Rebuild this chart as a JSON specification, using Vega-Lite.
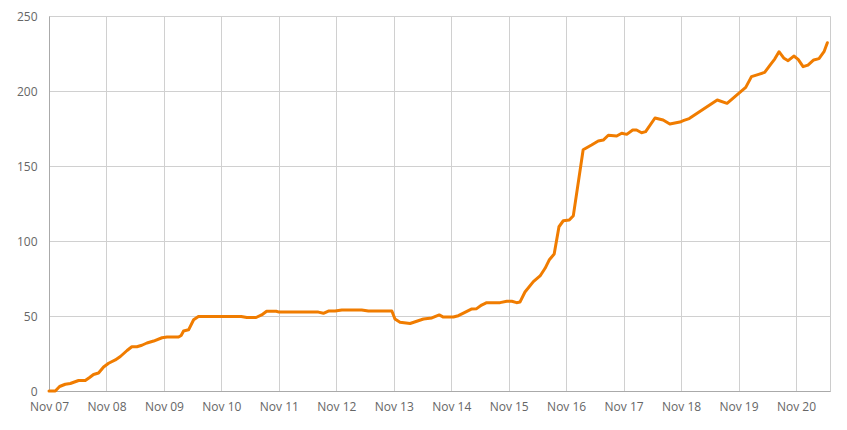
{
  "$schema": "https://vega.github.io/schema/vega-lite/v6.json",
  "autosize": {"type": "none"},
  "width": 781,
  "height": 375,
  "padding": {"left": 49, "top": 16, "right": 17, "bottom": 39},
  "background": "white",
  "config": {
    "view": {"stroke": "#cccccc", "strokeWidth": 1},
    "font": "Open Sans",
    "axis": {
      "labelFont": "Open Sans",
      "labelFontSize": 12,
      "labelColor": "#666666",
      "gridColor": "#d0d0d0",
      "gridWidth": 1,
      "domainColor": "#aaaaaa",
      "ticks": false,
      "title": null
    }
  },
  "data": {
    "values": [
      {"time": "2023-11-07T00:00:00", "value": 0},
      {"time": "2023-11-07T02:38:00", "value": 0},
      {"time": "2023-11-07T04:25:00", "value": 3},
      {"time": "2023-11-07T06:48:00", "value": 4.5},
      {"time": "2023-11-07T08:54:00", "value": 5},
      {"time": "2023-11-07T12:21:00", "value": 7},
      {"time": "2023-11-07T15:09:00", "value": 7},
      {"time": "2023-11-07T16:57:00", "value": 9},
      {"time": "2023-11-07T18:36:00", "value": 11},
      {"time": "2023-11-07T20:42:00", "value": 12},
      {"time": "2023-11-07T22:48:00", "value": 16},
      {"time": "2023-11-08T00:54:00", "value": 18.5},
      {"time": "2023-11-08T03:42:00", "value": 20.7},
      {"time": "2023-11-08T05:48:00", "value": 23},
      {"time": "2023-11-08T08:36:00", "value": 27},
      {"time": "2023-11-08T10:36:00", "value": 29.5},
      {"time": "2023-11-08T12:42:00", "value": 29.5},
      {"time": "2023-11-08T14:48:00", "value": 30.5},
      {"time": "2023-11-08T16:54:00", "value": 32},
      {"time": "2023-11-08T19:42:00", "value": 33.3},
      {"time": "2023-11-08T23:12:00", "value": 35.5},
      {"time": "2023-11-09T01:18:00", "value": 36},
      {"time": "2023-11-09T06:06:00", "value": 36},
      {"time": "2023-11-09T07:12:00", "value": 37},
      {"time": "2023-11-09T08:12:00", "value": 40},
      {"time": "2023-11-09T10:18:00", "value": 40.8},
      {"time": "2023-11-09T12:24:00", "value": 47.5},
      {"time": "2023-11-09T14:24:00", "value": 49.7},
      {"time": "2023-11-10T08:18:00", "value": 49.7},
      {"time": "2023-11-10T10:36:00", "value": 49},
      {"time": "2023-11-10T14:30:00", "value": 49},
      {"time": "2023-11-10T16:48:00", "value": 50.7},
      {"time": "2023-11-10T18:54:00", "value": 53.2},
      {"time": "2023-11-10T22:54:00", "value": 53.2},
      {"time": "2023-11-11T00:06:00", "value": 52.6},
      {"time": "2023-11-11T16:30:00", "value": 52.6},
      {"time": "2023-11-11T18:36:00", "value": 51.8},
      {"time": "2023-11-11T20:42:00", "value": 53.3},
      {"time": "2023-11-11T23:30:00", "value": 53.3},
      {"time": "2023-11-12T02:18:00", "value": 54},
      {"time": "2023-11-12T10:36:00", "value": 54},
      {"time": "2023-11-12T13:24:00", "value": 53.3},
      {"time": "2023-11-12T23:12:00", "value": 53.3},
      {"time": "2023-11-13T00:30:00", "value": 48},
      {"time": "2023-11-13T02:36:00", "value": 45.8},
      {"time": "2023-11-13T06:48:00", "value": 45},
      {"time": "2023-11-13T09:36:00", "value": 46.5},
      {"time": "2023-11-13T12:24:00", "value": 48},
      {"time": "2023-11-13T15:54:00", "value": 48.7},
      {"time": "2023-11-13T19:00:00", "value": 50.7},
      {"time": "2023-11-13T20:42:00", "value": 49.3},
      {"time": "2023-11-14T00:54:00", "value": 49.3},
      {"time": "2023-11-14T02:58:00", "value": 50.2},
      {"time": "2023-11-14T05:42:00", "value": 52.4},
      {"time": "2023-11-14T08:36:00", "value": 54.7},
      {"time": "2023-11-14T10:36:00", "value": 54.9},
      {"time": "2023-11-14T12:42:00", "value": 57.3},
      {"time": "2023-11-14T14:48:00", "value": 58.9},
      {"time": "2023-11-14T20:24:00", "value": 58.9},
      {"time": "2023-11-14T23:12:00", "value": 59.8},
      {"time": "2023-11-15T01:18:00", "value": 59.8},
      {"time": "2023-11-15T03:18:00", "value": 58.9},
      {"time": "2023-11-15T04:42:00", "value": 59.3},
      {"time": "2023-11-15T06:48:00", "value": 66},
      {"time": "2023-11-15T10:18:00", "value": 72.9},
      {"time": "2023-11-15T13:06:00", "value": 76.7},
      {"time": "2023-11-15T15:12:00", "value": 81.8},
      {"time": "2023-11-15T16:54:00", "value": 87.3},
      {"time": "2023-11-15T19:00:00", "value": 91.3},
      {"time": "2023-11-15T21:00:00", "value": 109.5},
      {"time": "2023-11-15T22:48:00", "value": 113.5},
      {"time": "2023-11-16T01:18:00", "value": 114},
      {"time": "2023-11-16T03:00:00", "value": 116.9},
      {"time": "2023-11-16T07:06:00", "value": 160.8},
      {"time": "2023-11-16T10:36:00", "value": 164},
      {"time": "2023-11-16T13:24:00", "value": 166.7},
      {"time": "2023-11-16T15:30:00", "value": 167.3},
      {"time": "2023-11-16T17:36:00", "value": 170.5},
      {"time": "2023-11-16T21:06:00", "value": 170},
      {"time": "2023-11-16T23:12:00", "value": 171.8},
      {"time": "2023-11-17T01:18:00", "value": 171.1},
      {"time": "2023-11-17T03:48:00", "value": 174},
      {"time": "2023-11-17T05:24:00", "value": 174},
      {"time": "2023-11-17T07:30:00", "value": 172.2},
      {"time": "2023-11-17T09:12:00", "value": 172.9},
      {"time": "2023-11-17T13:06:00", "value": 182},
      {"time": "2023-11-17T16:30:00", "value": 180.7},
      {"time": "2023-11-17T19:18:00", "value": 178},
      {"time": "2023-11-17T23:30:00", "value": 179.3},
      {"time": "2023-11-18T01:12:00", "value": 180.4},
      {"time": "2023-11-18T03:24:00", "value": 181.6},
      {"time": "2023-11-18T15:06:00", "value": 194},
      {"time": "2023-11-18T19:12:00", "value": 191.8},
      {"time": "2023-11-19T03:00:00", "value": 202.4},
      {"time": "2023-11-19T05:24:00", "value": 209.6},
      {"time": "2023-11-19T08:24:00", "value": 211.1},
      {"time": "2023-11-19T10:54:00", "value": 212.4},
      {"time": "2023-11-19T13:24:00", "value": 217.8},
      {"time": "2023-11-19T15:06:00", "value": 221.3},
      {"time": "2023-11-19T16:54:00", "value": 226.2},
      {"time": "2023-11-19T19:00:00", "value": 221.8},
      {"time": "2023-11-19T20:42:00", "value": 220.2},
      {"time": "2023-11-19T23:06:00", "value": 223.3},
      {"time": "2023-11-20T00:54:00", "value": 221.1},
      {"time": "2023-11-20T02:58:00", "value": 216.2},
      {"time": "2023-11-20T05:00:00", "value": 217.3},
      {"time": "2023-11-20T07:24:00", "value": 220.7},
      {"time": "2023-11-20T09:36:00", "value": 221.6},
      {"time": "2023-11-20T11:42:00", "value": 226.2},
      {"time": "2023-11-20T13:06:00", "value": 232.2}
    ]
  },
  "mark": {"type": "line", "color": "#f07c00", "strokeWidth": 3, "strokeJoin": "round", "strokeCap": "round", "clip": false},
  "encoding": {
    "x": {
      "field": "time",
      "type": "temporal",
      "scale": {
        "domain": [
          {"year": 2023, "month": 11, "date": 7, "hours": 0, "minutes": 0},
          {"year": 2023, "month": 11, "date": 20, "hours": 14, "minutes": 12}
        ],
        "nice": false
      },
      "axis": {
        "format": "%b %d",
        "tickCount": {"interval": "day", "step": 1},
        "labelPadding": 10,
        "labelFlush": false,
        "labelOverlap": false,
        "grid": true
      }
    },
    "y": {
      "field": "value",
      "type": "quantitative",
      "scale": {"domain": [0, 250], "nice": false},
      "axis": {
        "values": [0, 50, 100, 150, 200, 250],
        "labelPadding": 12,
        "grid": true
      }
    }
  }
}
